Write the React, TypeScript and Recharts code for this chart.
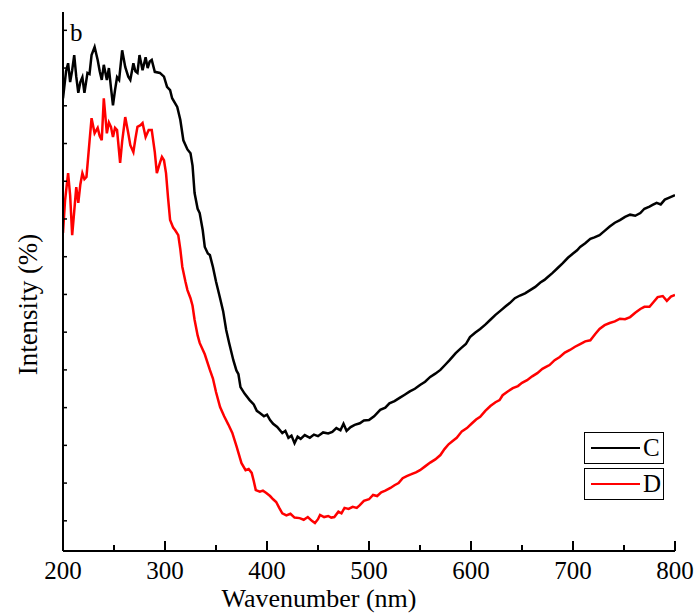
import React from "react";
import { LineChart, Line, XAxis, YAxis } from "recharts";

// wavelength (nm) and intensity (a.u.)
const cNm = [
  200, 203, 205, 207, 209, 211, 213, 215, 217, 219, 221, 224, 226, 228, 231, 234, 236, 238, 240, 243,
  245, 247, 249, 251, 253, 255, 258, 261, 264, 266, 269, 271, 273, 275, 278, 281, 283, 285, 287, 290,
  295, 299, 302, 305, 307, 312, 315, 318, 322, 325, 327, 329, 332, 334, 337, 339, 342, 344, 347, 350,
  354, 357, 360, 363, 367, 370, 372, 374, 378, 383, 387, 390, 393, 397, 400, 403, 406, 410, 415, 418,
  421, 424, 427, 430, 433, 437, 442, 446, 450, 455, 460, 464, 468, 472, 475, 478, 482, 486, 491, 495,
  500, 505, 511, 516, 520, 525, 530, 535, 540, 545, 550, 555, 560, 565, 570, 575, 579, 585, 590, 595,
  599, 604, 609, 614, 619, 624, 629, 634, 638, 643, 648, 653, 658, 663, 668, 672, 675, 680, 685, 690,
  695, 700, 704, 707, 712, 717, 721, 726, 731, 736, 741, 746, 751, 756, 761, 766, 770, 775, 778, 782,
  786, 790, 795, 800,
];
const cVal = [
  84.0, 89.0, 90.5, 87.0, 89.2, 92.0, 88.0, 85.0, 87.0, 87.9, 85.0, 88.7, 88.5, 92.0, 93.5, 91.1, 89.0, 87.4, 90.2, 87.4,
  89.6, 86.0, 82.7, 85.5, 87.9, 87.4, 92.9, 89.8, 88.0, 87.4, 90.5, 89.0, 88.7, 92.0, 89.2, 91.6, 89.6, 90.8, 91.1, 88.9,
  88.7, 88.0, 86.1, 85.5, 84.0, 82.4, 80.0, 76.2, 74.5, 73.8, 71.5, 66.4, 63.5, 62.7, 59.5, 56.4, 55.2, 54.9, 52.7, 50.0,
  46.9, 44.5, 41.0, 38.5, 35.4, 33.5, 32.8, 30.4, 29.2, 28.0, 27.2, 26.0, 25.6, 25.0, 25.3, 24.3, 23.6, 23.0, 21.9, 22.3,
  21.0, 21.4, 20.0, 21.2, 20.8, 21.5, 21.0, 21.6, 21.3, 22.0, 21.8, 22.1, 22.8, 22.4, 23.6, 22.3, 23.0, 23.4, 23.7, 24.2,
  24.3, 25.0, 26.2, 26.6, 27.4, 27.8, 28.4, 29.0, 29.6, 30.1, 30.8, 31.4, 32.3, 32.9, 33.6, 34.6, 35.4, 36.7, 37.6, 38.4,
  39.7, 40.5, 41.2, 42.0, 42.9, 43.8, 44.6, 45.4, 46.0, 46.9, 47.4, 47.8, 48.4, 49.0, 49.8, 50.3, 50.8, 51.6, 52.5, 53.4,
  54.4, 55.2, 55.8, 56.4, 57.1, 57.9, 58.2, 58.6, 59.4, 60.2, 60.9, 61.4, 62.0, 62.4, 62.2, 62.7, 63.5, 63.9, 64.2, 64.6,
  64.3, 65.2, 65.6, 66.0,
];

const dNm = [
  200, 202, 205, 207, 209, 211, 213, 215, 217, 219, 221, 223, 226, 228, 231, 234, 236, 238, 240, 243,
  245, 247, 249, 251, 253, 256, 258, 261, 264, 266, 269, 271, 273, 276, 278, 281, 284, 287, 290, 292,
  295, 297, 299, 301, 303, 305, 308, 310, 313, 315, 317, 320, 322, 325, 327, 329, 332, 334, 339, 344,
  347, 350, 354, 358, 362, 366, 370, 375, 379, 382, 385, 387, 389, 393, 396, 399, 403, 406, 409, 412,
  415, 419, 423, 427, 432, 436, 440, 444, 447, 450, 452, 456, 460, 463, 466, 470, 473, 476, 480, 484,
  488, 491, 495, 500, 504, 508, 512, 516, 521, 525, 529, 533, 537, 541, 546, 550, 555, 560, 565, 570,
  574, 578, 582, 586, 591, 596, 601, 605, 609, 614, 619, 624, 628, 631, 636, 641, 646, 650, 655, 660,
  665, 670, 674, 677, 682, 687, 692, 697, 702, 707, 712, 717, 722, 726, 731, 736, 741, 746, 751, 756,
  761, 766, 770, 775, 779, 783, 788, 792, 796, 800,
];
const dVal = [
  59.0, 65.0, 70.1, 66.0, 58.6, 63.0, 67.5, 64.6, 68.0, 70.1, 69.0, 69.4, 76.0, 80.3, 77.5, 78.5, 77.0, 76.2, 84.0, 77.5,
  79.5, 78.7, 76.8, 78.5, 78.1, 72.0, 76.0, 80.5, 77.5, 75.3, 74.0, 76.5, 78.7, 79.0, 79.4, 76.8, 78.1, 78.1, 74.0, 70.1,
  72.0, 73.1, 72.5, 70.1, 65.5, 61.4, 60.0, 59.5, 58.6, 56.0, 52.7, 50.0, 48.4, 46.9, 45.5, 42.9, 40.0, 38.6, 36.5, 33.6,
  32.0, 29.5, 26.7, 25.0, 23.5, 21.9, 19.5, 16.3, 15.0, 15.2, 14.5, 13.0, 11.3, 11.0, 11.2, 10.8, 10.2, 9.6, 9.1, 8.0,
  7.0, 6.6, 6.9, 6.2, 6.1, 5.8, 6.3, 5.6, 5.2, 5.9, 6.7, 6.3, 6.5, 6.2, 6.3, 7.3, 7.0, 8.0, 7.8, 8.2,
  8.0, 8.5, 9.3, 9.6, 10.4, 10.2, 10.9, 11.2, 11.7, 12.2, 12.6, 13.5, 13.9, 14.2, 14.6, 15.0, 15.7, 16.4, 17.0, 17.8,
  18.9, 19.8, 20.4, 21.0, 22.2, 22.8, 23.7, 24.4, 24.9, 26.0, 26.9, 27.6, 28.0, 28.9, 29.6, 30.2, 30.6, 31.2, 31.7, 32.4,
  33.0, 33.8, 34.2, 34.5, 35.4, 36.0, 36.8, 37.3, 37.9, 38.4, 38.9, 39.1, 40.3, 41.2, 41.9, 42.3, 42.6, 43.1, 43.0, 43.4,
  44.2, 44.9, 45.3, 45.3, 46.2, 47.1, 47.3, 46.4, 47.2, 47.5,
];

const xTicks = [200, 250, 300, 350, 400, 450, 500, 550, 600, 650, 700, 750, 800];
const yTicks = [5.6, 12.6, 19.6, 26.6, 33.6, 40.6, 47.6, 54.6, 61.6, 68.6, 75.6, 82.6, 89.6, 96.6];

const series = [
  { name: "C", color: "#000000", data: cNm.map((x, i) => ({ x, y: cVal[i] })) },
  { name: "D", color: "#ff0000", data: dNm.map((x, i) => ({ x, y: dVal[i] })) },
];

const FONT = '"Liberation Serif", "Times New Roman", serif';

// drop the default body margin so the 695x615 chart fits without scrollbars
if (typeof document !== "undefined") {
  document.body.style.margin = "0";
  document.body.style.overflow = "hidden";
}

const XTick = (props: any) => {
  const { x, y, payload } = props;
  const major = payload.value % 100 === 0;
  return (
    <g>
      <line x1={x} x2={x} y1={y} y2={y - (major ? 10 : 6)} stroke="#000" strokeWidth={2} />
      {major && (
        <text x={x} y={y + 28} textAnchor="middle" fontSize={25} fontFamily={FONT} fill="#000">
          {payload.value}
        </text>
      )}
    </g>
  );
};

const YTick = (props: any) => {
  const { x, y } = props;
  return <line x1={x} x2={x + 4} y1={y} y2={y} stroke="#000" strokeWidth={1.5} />;
};

const YLabel = (props: any) => {
  const { viewBox } = props;
  const cx = viewBox.x - 34;
  const cy = viewBox.y + viewBox.height / 2 + 23;
  return (
    <text
      x={cx}
      y={cy}
      transform={`rotate(-90 ${cx} ${cy})`}
      textAnchor="middle"
      dominantBaseline="central"
      fontSize={27}
      fontFamily={FONT}
      fill="#000"
    >
      Intensity (%)
    </text>
  );
};

const XLabel = (props: any) => {
  const { viewBox } = props;
  return (
    <text
      x={viewBox.x + viewBox.width / 2 - 50}
      y={viewBox.y + 56}
      textAnchor="middle"
      fontSize={26}
      fontFamily={FONT}
      fill="#000"
    >
      Wavenumber (nm)
    </text>
  );
};

export default function App() {
  return (
    <div style={{ position: "relative", width: 695, height: 615, background: "#fff" }}>
      <LineChart
        width={695}
        height={615}
        margin={{ top: 12, right: 20, bottom: 0, left: 62 }}
        style={{ overflow: "visible" }}
      >
        <XAxis
          dataKey="x"
          type="number"
          domain={[200, 800]}
          ticks={xTicks}
          allowDataOverflow
          height={64}
          tickSize={0}
          tickMargin={0}
          tickLine={false}
          axisLine={{ stroke: "#000", strokeWidth: 2 }}
          tick={<XTick />}
          interval={0}
          label={<XLabel />}
        />
        <YAxis
          type="number"
          domain={[0, 100]}
          ticks={yTicks}
          allowDataOverflow
          width={1}
          tickSize={0}
          tickMargin={0}
          tickLine={false}
          axisLine={{ stroke: "#000", strokeWidth: 2 }}
          tick={<YTick />}
          interval={0}
          label={<YLabel />}
        />
        {series.map((s) => (
          <Line
            key={s.name}
            data={s.data}
            dataKey="y"
            type="linear"
            stroke={s.color}
            strokeWidth={2.5}
            dot={false}
            isAnimationActive={false}
          />
        ))}
      </LineChart>
      <div
        style={{
          position: "absolute",
          left: 70,
          top: 20,
          fontFamily: FONT,
          fontSize: 25,
          lineHeight: "25px",
        }}
      >
        b
      </div>
      {series.map((s, i) => (
        <div
          key={s.name}
          style={{
            position: "absolute",
            left: 584,
            top: 432 + i * 36,
            width: 80,
            height: 32,
            boxSizing: "border-box",
            border: "1px solid #000",
            display: "flex",
            alignItems: "center",
            fontFamily: FONT,
            fontSize: 25,
          }}
        >
          <span style={{ display: "block", marginLeft: 6, width: 49, height: 2, background: s.color }} />
          <span style={{ marginLeft: 3 }}>{s.name}</span>
        </div>
      ))}
    </div>
  );
}
